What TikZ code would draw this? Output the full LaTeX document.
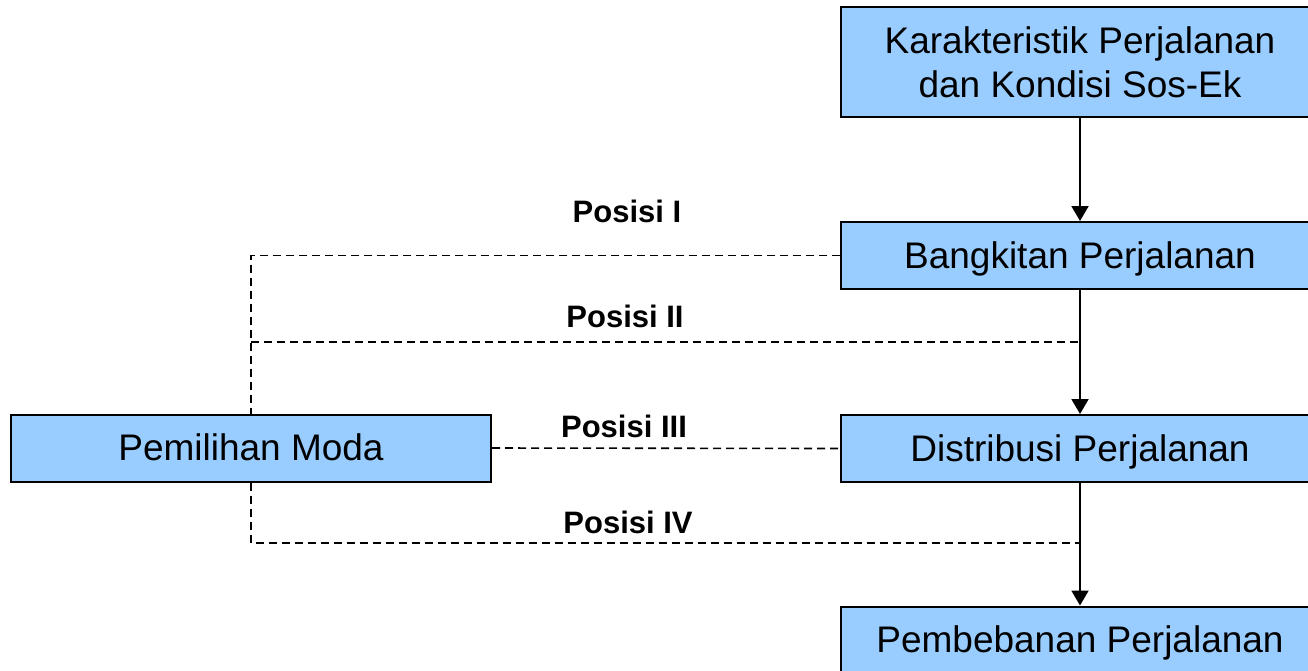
\documentclass[tikz,border=0pt]{standalone}
\usepackage{fontspec}
\setmainfont{Liberation Sans}
\usetikzlibrary{arrows.meta,calc}
\definecolor{boxblue}{HTML}{99CCFF}
\tikzset{
  procbox/.style={draw=black, line width=2pt, fill=boxblue, minimum width=478pt,
    minimum height=67pt, inner sep=0pt, font=\fontsize{37}{44}\selectfont},
  onebox/.style={procbox, text height=25.5pt, text depth=0pt},
  flow/.style={line width=2pt, -{Triangle[length=15pt,width=17pt]}},
  dashlink/.style={line width=1.6pt, dash pattern=on 8pt off 5pt},
  poslabel/.style={font=\bfseries\fontsize{31}{34}\selectfont, anchor=base, inner sep=0pt}
}
\begin{document}
\begin{tikzpicture}[x=1pt,y=-1pt]
\useasboundingbox (0,0) rectangle (1308,670);
\node[procbox, minimum height=110pt, align=center] (kar) at (1080,62) {Karakteristik Perjalanan\\dan Kondisi Sos-Ek};
\node[onebox] (bang) at (1080,255.5) {Bangkitan Perjalanan};
\node[onebox] (dist) at (1080,448.5) {Distribusi Perjalanan};
\node[onebox] (beban) at (1080,640) {Pembebanan Perjalanan};
\node[onebox, minimum width=480pt] (moda) at (251,448) {Pemilihan Moda};
\coordinate (ax) at (1080,0);
\coordinate (y2) at (0,342);
\coordinate (y4) at (0,543);
\draw[flow] (kar.south -| ax) -- (bang.north -| ax);
\draw[flow] (bang.south -| ax) -- (dist.north -| ax);
\draw[flow] (dist.south -| ax) -- (beban.north -| ax);
\draw[dashlink] (bang.west) -- (moda.north |- bang.west) -- (moda.north);
\draw[dashlink] (moda.north |- y2) -- (ax |- y2);
\draw[dashlink] (moda.east) -- (dist.west);
\draw[dashlink] (moda.south) -- (moda.south |- y4) -- (ax |- y4);
\node[poslabel] (l1) at (627,222) {Posisi I};
\node[poslabel] (l2) at (625,327) {Posisi II};
\node[poslabel] (l3) at (624,437) {Posisi III};
\node[poslabel] (l4) at (628,533) {Posisi IV};
\end{tikzpicture}
\end{document}
